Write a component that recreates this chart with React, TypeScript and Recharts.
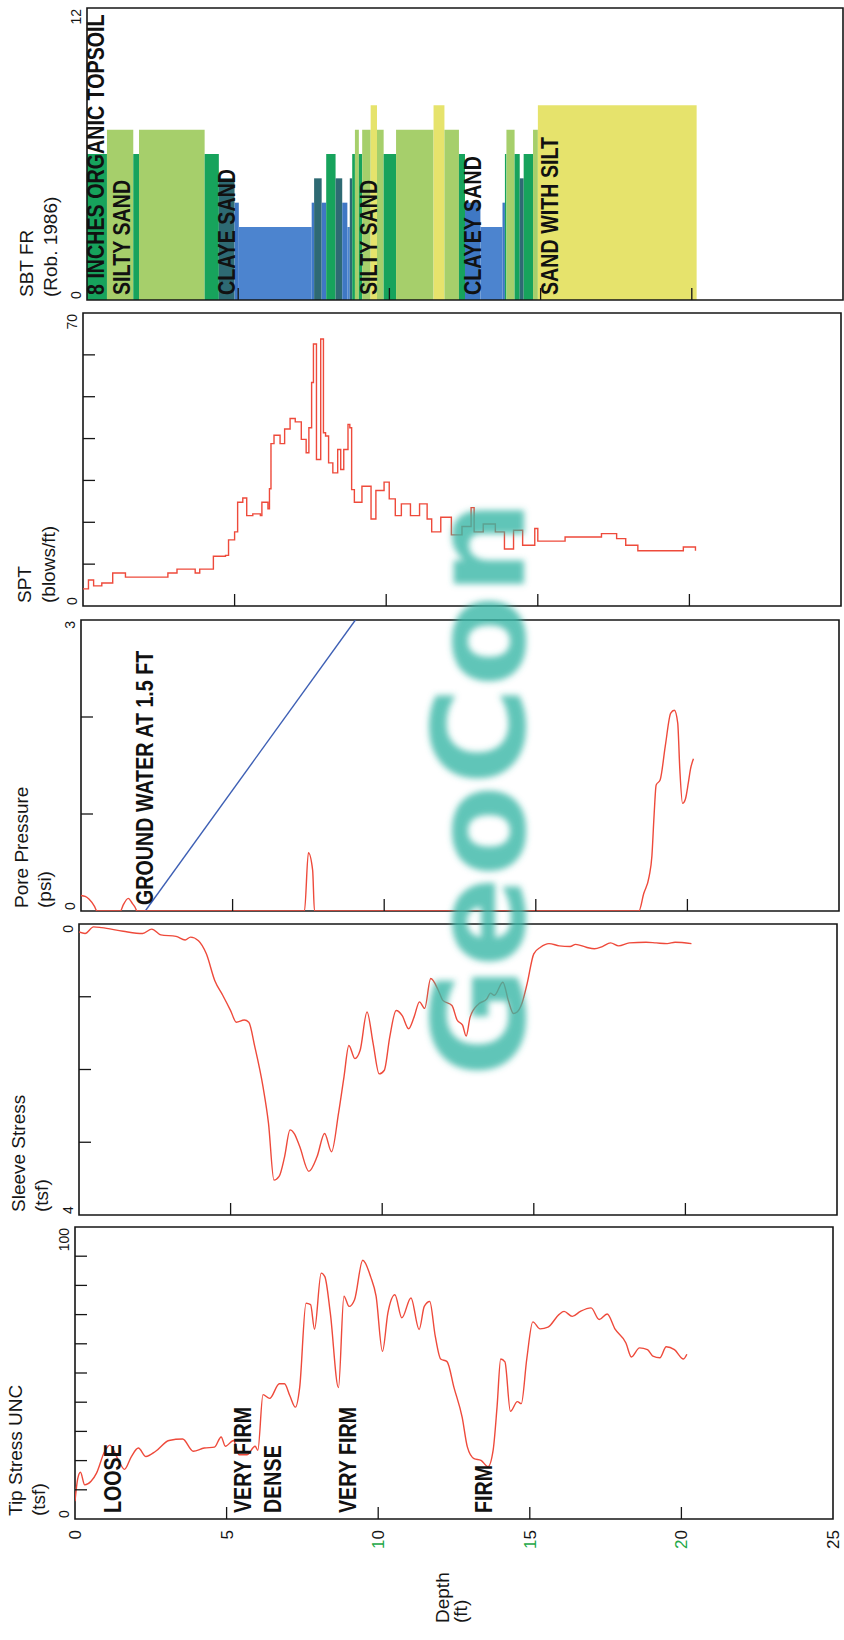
import React from 'react'
import {
  ComposedChart,
  Line,
  XAxis,
  YAxis,
  ReferenceArea,
  ReferenceDot,
} from 'recharts'

const W = 844
const H = 1640
const FONT = '"Liberation Sans", Arial, Helvetica, sans-serif'
const INK = '#161616'
const RED = '#ee4a3b'
const BLUE = '#3d5fb4'

// depth axis (ft)
const depthTicks = [0, 5, 10, 15, 20, 25]
const depthGreenDigit = [10, 15, 20]

// SBT FR (Rob. 1986) layers: boundaries (ft) and zone number
const sbtBounds = [
  0, 0.66, 1.53, 1.72, 3.89, 4.36, 4.88, 5.02, 7.43, 7.51, 7.76, 7.91, 8.22, 8.44, 8.61, 8.69, 8.77,
  8.86, 8.99, 9.1, 9.38, 9.59, 9.81, 10.22, 11.46, 11.82, 12.3, 12.5, 13.01, 13.74, 13.82, 13.87,
  14.14, 14.31, 14.44, 14.75, 14.91, 20.16,
]
const sbtZone = [
  6, 7, 6, 7, 6, 5, 4, 3, 4, 5, 4, 6, 5, 4, 3, 5, 6, 7, 6, 7, 8, 7, 6, 7, 8, 7, 6, 4, 3, 4, 6, 7, 6,
  5, 6, 7, 8,
]
const sbtNoteText = [
  '8 INCHES ORGANIC TOPSOIL',
  'SILTY SAND',
  'CLAYE SAND',
  'SILTY SAND',
  'CLAYEY SAND',
  'SAND WITH SILT',
]
const sbtNoteDepth = [0.57, 1.43, 4.88, 9.58, 13.04, 15.57]

// SPT (blows/ft)
const sptDepth = [
  0, 0.18, 0.35, 0.62, 0.98, 1.4, 2.2, 2.8, 3.1, 3.7, 3.85, 4.3, 4.7, 4.8, 5.0, 5.1, 5.27, 5.4, 5.6,
  5.85, 5.9, 6.1, 6.15, 6.2, 6.3, 6.5, 6.65, 6.83, 7.0, 7.2, 7.36, 7.45, 7.54, 7.6, 7.7, 7.84, 7.93,
  8.0, 8.1, 8.24, 8.4, 8.5, 8.6, 8.74, 8.8, 8.86, 8.95, 9.2, 9.5, 9.66, 9.93, 10.1, 10.3, 10.5, 10.8,
  11.1, 11.35, 11.5, 11.8, 12.15, 12.5, 12.8, 12.9, 13.2, 13.6, 13.9, 14.2, 14.5, 14.9, 15.0, 15.8,
  15.9, 16.75, 17.1, 17.6, 17.9, 18.3, 19.6, 19.8, 20.2,
]
const sptValue = [
  4.1, 6.2, 4.8, 5.5, 7.9, 6.9, 6.9, 7.9, 8.8, 7.9, 8.8, 11.9, 12.1, 15.8, 17.7, 24.8, 25.8, 21.6,
  22, 21.6, 24.8, 23.2, 28, 38.8, 40.8, 38.8, 42.3, 44.8, 44, 39.8, 36.6, 42.6, 53.4, 62.6, 35, 63.8,
  41.4, 40.6, 34.2, 31.8, 37.4, 32.6, 37.4, 43.4, 42.6, 27.8, 24.8, 28.6, 20.8, 27.6, 29.6, 25.6,
  21.6, 24.4, 21.6, 24.4, 20.8, 17.7, 21.2, 17, 19, 23.5, 17.7, 19.6, 17.7, 13.6, 18.1, 14.5, 18.5,
  15.5, 15.5, 16.5, 16.5, 17.3, 16.1, 14.5, 13.2, 13.2, 14.1, 13.2,
]

// pore pressure (psi)
const poreDepth = [
  0, 0.14, 0.27, 0.44, 0.53, 1.3, 1.39, 1.56, 1.69, 1.78, 1.85, 7.3, 7.37, 7.5, 7.64, 7.7, 18.4,
  18.56, 18.74, 18.83, 18.9, 18.97, 19.1, 19.27, 19.45, 19.57, 19.68, 19.75, 19.84, 19.93, 20.03,
  20.1, 20.2,
]
const poreValue = [
  0.16, 0.15, 0.12, 0.05, 0, 0, 0.06, 0.13, 0.08, 0.04, 0, 0, 0, 0.6, 0.42, 0, 0, 0.18, 0.36, 0.57,
  0.98, 1.3, 1.35, 1.7, 2.04, 2.07, 1.94, 1.46, 1.11, 1.15, 1.32, 1.46, 1.57,
]
// hydrostatic line
const waterDepth = [2.12, 9.05]
const waterValue = [0, 3]
const waterNote = 'GROUND WATER AT 1.5 FT'
const waterNoteDepth = 2.38

// sleeve stress (tsf)
const sleeveDepth = [
  0, 0.2, 0.48, 0.75, 1.46, 2.1, 2.4, 2.7, 3.2, 3.5, 3.68, 3.94, 4.2, 4.48, 4.74, 5.0, 5.19, 5.45,
  5.6, 5.8, 6.07, 6.25, 6.43, 6.6, 6.78, 6.96, 7.1, 7.28, 7.58, 7.85, 8.1, 8.33, 8.56, 8.74, 8.9, 9.1,
  9.27, 9.5, 9.7, 9.9, 10.07, 10.25, 10.46, 10.66, 10.87, 11.05, 11.23, 11.4, 11.6, 11.85, 12.0, 12.3,
  12.47, 12.65, 12.77, 12.9, 13.18, 13.45, 13.57, 13.7, 13.98, 14.16, 14.33, 14.45, 14.6, 14.78, 15.0,
  15.22, 15.5, 15.84, 16.2, 16.38, 16.73, 17.0, 17.26, 17.53, 17.8, 18.15, 18.7, 19.04, 19.4, 19.66,
  20.2,
]
const sleeveValue = [
  0.11, 0.13, 0.04, 0.05, 0.1, 0.13, 0.07, 0.15, 0.17, 0.22, 0.18, 0.23, 0.41, 0.78, 0.98, 1.19, 1.35,
  1.32, 1.35, 1.69, 2.24, 2.74, 3.52, 3.47, 3.2, 2.83, 2.88, 3.06, 3.4, 3.2, 2.88, 3.13, 2.6, 2.1,
  1.67, 1.85, 1.74, 1.21, 1.64, 2.06, 2.01, 1.55, 1.19, 1.26, 1.44, 1.28, 1.07, 1.16, 0.75, 0.91,
  1.05, 1.12, 1.32, 1.39, 1.54, 1.28, 1.1, 1.03, 0.95, 0.98, 0.8, 1.05, 1.23, 1.21, 1.1, 0.82, 0.41,
  0.32, 0.27, 0.3, 0.31, 0.28, 0.32, 0.34, 0.31, 0.26, 0.3, 0.26, 0.25, 0.26, 0.27, 0.25, 0.27,
]

// tip stress UNC (tsf)
const tipDepth = [
  0, 0.09, 0.18, 0.32, 0.53, 0.71, 0.98, 1.15, 1.42, 1.63, 1.86, 2.09, 2.34, 2.66, 3.1, 3.55, 3.9,
  4.26, 4.6, 4.82, 4.96, 5.23, 5.41, 5.67, 5.94, 6.03, 6.2, 6.42, 6.74, 6.91, 7.09, 7.27, 7.41, 7.62,
  7.77, 7.9, 8.12, 8.24, 8.42, 8.69, 8.87, 9.04, 9.22, 9.49, 9.75, 9.93, 10.14, 10.32, 10.55, 10.78,
  11.08, 11.35, 11.52, 11.7, 11.88, 12.06, 12.27, 12.5, 12.77, 12.94, 13.16, 13.39, 13.62, 13.79,
  13.92, 14.04, 14.18, 14.36, 14.59, 14.72, 14.9, 15.1, 15.34, 15.6, 15.96, 16.13, 16.4, 16.67,
  17.02, 17.29, 17.55, 17.82, 18.17, 18.35, 18.62, 18.88, 19.06, 19.29, 19.5, 19.77, 20.07, 20.18,
]
const tipValue = [
  6.1, 13.8, 16, 11.7, 12.9, 15.7, 23.2, 25.3, 20.4, 17, 21.4, 24.3, 21.4, 23.2, 26.9, 27.4, 23.2,
  24.3, 24.6, 28.1, 24.9, 26.9, 22, 22, 24.9, 23.5, 42.6, 41.3, 46.3, 46.3, 42.1, 38.3, 45, 73.9,
  73.4, 65, 84.2, 83, 70.6, 45, 76.3, 72.8, 75.1, 88.6, 83, 76.3, 57.4, 70.6, 76.8, 68.9, 75.7, 64.9,
  72.8, 74.5, 62.7, 54.8, 53.9, 45, 34.8, 24.7, 20.7, 20.1, 17.9, 23.5, 38.4, 54.8, 53.8, 36.9, 40.2,
  39.5, 54.8, 67.5, 65.1, 65.7, 70, 71.1, 69.4, 71.1, 72.3, 68.3, 70.2, 64.9, 60.3, 55.5, 58.6, 58,
  55.8, 55.2, 59, 58, 54.8, 56.4,
]
const tipNoteText = ['LOOSE', 'VERY FIRM', 'DENSE', 'VERY FIRM', 'FIRM']
const tipNoteDepth = [1.52, 5.79, 6.79, 9.27, 13.74]

// value axis ticks
const sbtTicks = [0, 12]
const sptTicks = [0, 10, 20, 30, 40, 50, 60, 70]
const poreTicks = [0, 1, 2, 3]
const sleeveTicks = [0, 1, 2, 3, 4]
const tipTicks = [0, 10, 20, 30, 40, 50, 60, 70, 80, 90, 100]

const zoneColor: Record<number, string> = {
  3: '#4c84cf',
  4: '#3f78c4',
  5: '#2e6a73',
  6: '#17a35c',
  7: '#a6cf6b',
  8: '#e6e36c',
}

const zip = (d: number[], v: number[]) => d.map((x, i) => ({ d: x, v: v[i] }))

type Panel = {
  top: number
  bottom: number
  left: number
  right: number
  ticks: number[]
  reversed?: boolean
  title: string
  unit: string
  titleX: [number, number]
}

const panels: Record<string, Panel> = {
  sbt: { top: 8, bottom: 300, left: 87, right: 843, ticks: sbtTicks, title: 'SBT FR', unit: '(Rob. 1986)', titleX: [33, 57] },
  spt: { top: 313, bottom: 606, left: 83, right: 841, ticks: sptTicks, title: 'SPT', unit: '(blows/ft)', titleX: [31, 55] },
  pore: { top: 620, bottom: 911, left: 81, right: 839, ticks: poreTicks, title: 'Pore Pressure', unit: '(psi)', titleX: [28, 51] },
  sleeve: { top: 924, bottom: 1215, left: 79, right: 837, ticks: sleeveTicks, reversed: true, title: 'Sleeve Stress', unit: '(tsf)', titleX: [25, 48] },
  tip: { top: 1227, bottom: 1519, left: 75, right: 833, ticks: tipTicks, title: 'Tip Stress UNC', unit: '(tsf)', titleX: [22, 45] },
}

const rot = (x: number, y: number) => `rotate(-90 ${x} ${y})`

function NoteText({ x, y, text }: { x: number; y: number; text: string }) {
  return (
    <text
      transform={`translate(${x} ${y}) rotate(-90) scale(0.82 1)`}
      fontSize={24}
      fontWeight="bold"
      fontFamily={FONT}
      fill="#111"
    >
      {text}
    </text>
  )
}

const makeValueTick = (p: Panel) => (props: any) => {
  const { y, payload } = props
  const v = payload.value as number
  const first = p.ticks[0]
  const last = p.ticks[p.ticks.length - 1]
  if (v !== first && v !== last) {
    return <line x1={p.left} x2={p.left + 12} y1={y} y2={y} stroke={INK} strokeWidth={1.3} />
  }
  const atTop = y < (p.top + p.bottom) / 2
  const tx = p.left - 6
  const ty = atTop ? p.top + 1 : p.bottom - 1
  return (
    <text
      x={tx}
      y={ty}
      transform={rot(tx, ty)}
      textAnchor={atTop ? 'end' : 'start'}
      fontSize={14}
      fontFamily={FONT}
      fill={INK}
    >
      {v}
    </text>
  )
}

const makeDepthTick = (p: Panel, withLabels: boolean) => (props: any) => {
  const { x, payload } = props
  const v = payload.value as number
  const s = String(v)
  const tx = x + 6
  const ty = p.bottom + 11
  return (
    <g>
      {v > 0 && v < 25 && (
        <line x1={x} x2={x} y1={p.bottom} y2={p.bottom - 12} stroke={INK} strokeWidth={1.3} />
      )}
      {withLabels && (
        <text x={tx} y={ty} transform={rot(tx, ty)} textAnchor="end" fontSize={17} fontFamily={FONT} fill={INK}>
          {depthGreenDigit.includes(v) ? (
            <>
              <tspan fill="#22a847">{s[0]}</tspan>
              {s.slice(1)}
            </>
          ) : (
            s
          )}
        </text>
      )}
    </g>
  )
}

function PanelTitle({ p }: { p: Panel }) {
  const y = p.bottom - 3
  return (
    <g>
      <text x={p.titleX[0]} y={y} transform={rot(p.titleX[0], y)} fontSize={19} fontFamily={FONT} fill={INK}>
        {p.title}
      </text>
      <text x={p.titleX[1]} y={y} transform={rot(p.titleX[1], y)} fontSize={19} fontFamily={FONT} fill={INK}>
        {p.unit}
      </text>
    </g>
  )
}

// depth title under the last track, plus the blurred company stamp over the middle tracks
function BottomLabels() {
  const y = 1623
  return (
    <g>
      <text x={449} y={y} transform={rot(449, y)} fontSize={19} fontFamily={FONT} fill={INK}>
        Depth
      </text>
      <text x={467} y={y} transform={rot(467, y)} fontSize={19} fontFamily={FONT} fill={INK}>
        (ft)
      </text>
      <defs>
        <filter id="stamp-blur" x="-10%" y="-10%" width="120%" height="120%">
          <feGaussianBlur stdDeviation="3" />
        </filter>
      </defs>
      <text
        x={524}
        y={1077}
        transform={rot(524, 1077)}
        textLength={577}
        lengthAdjust="spacingAndGlyphs"
        fontSize={128}
        fontWeight="bold"
        fontFamily='"DejaVu Sans", Verdana, sans-serif'
        fill="#3ab6a6"
        fillOpacity={0.8}
        filter="url(#stamp-blur)"
      >
        GeoCon
      </text>
    </g>
  )
}

function Track({
  p,
  domain,
  last = false,
  children,
}: {
  p: Panel
  domain: [number, number]
  last?: boolean
  children?: React.ReactNode
}) {
  // axes of 1px so that they are drawn; margins leave the plot box at p
  return (
    <div style={{ position: 'absolute', left: 0, top: 0 }}>
      <ComposedChart
        width={W}
        height={H}
        margin={{ top: p.top, bottom: H - p.bottom - 1, left: p.left - 1, right: W - p.right }}
      >
        {children}
        <XAxis
          type="number"
          dataKey="d"
          domain={[0, 25]}
          ticks={depthTicks}
          interval={0}
          allowDataOverflow
          height={1}
          tickSize={0}
          tickMargin={0}
          axisLine={false}
          tickLine={false}
          tick={makeDepthTick(p, last)}
          label={last ? { content: () => <BottomLabels /> } : undefined}
        />
        <YAxis
          type="number"
          domain={domain}
          ticks={p.ticks}
          interval={0}
          reversed={p.reversed}
          allowDataOverflow
          width={1}
          tickSize={0}
          tickMargin={0}
          axisLine={false}
          tickLine={false}
          tick={makeValueTick(p)}
          label={{ content: () => <PanelTitle p={p} /> }}
        />
        <ReferenceArea
          x1={0}
          x2={25}
          y1={domain[0]}
          y2={domain[1]}
          fill="none"
          stroke={INK}
          strokeWidth={1.6}
          ifOverflow="visible"
        />
      </ComposedChart>
    </div>
  )
}

export default function App() {
  const { sbt, spt, pore, sleeve, tip } = panels
  return (
    <div style={{ position: 'absolute', left: 0, top: 0, width: W, height: H, background: '#fff' }}>
      <Track p={sbt} domain={[0, 12]}>
        {sbtZone.map((z, i) => (
          <ReferenceArea
            key={`sbt-${i}`}
            x1={sbtBounds[i]}
            x2={sbtBounds[i + 1]}
            y1={0}
            y2={z}
            fill={zoneColor[z]}
            fillOpacity={1}
            stroke="none"
            ifOverflow="visible"
          />
        ))}
        {sbtNoteText.map((t, i) => (
          <ReferenceDot
            key={`sbt-note-${i}`}
            x={sbtNoteDepth[i]}
            y={0}
            r={0}
            ifOverflow="visible"
            shape={(s: any) => <NoteText x={s.cx} y={s.cy - 5} text={t} />}
          />
        ))}
      </Track>

      <Track p={spt} domain={[0, 70]}>
        <Line
          data={zip(sptDepth, sptValue)}
          dataKey="v"
          type="stepAfter"
          stroke={RED}
          strokeWidth={1.4}
          dot={false}
          isAnimationActive={false}
        />
      </Track>

      <Track p={pore} domain={[0, 3]}>
        <Line
          data={zip(waterDepth, waterValue)}
          dataKey="v"
          type="linear"
          stroke={BLUE}
          strokeWidth={1.4}
          dot={false}
          isAnimationActive={false}
        />
        <Line
          data={zip(poreDepth, poreValue)}
          dataKey="v"
          type="monotone"
          stroke={RED}
          strokeWidth={1.4}
          dot={false}
          isAnimationActive={false}
        />
        <ReferenceDot
          x={waterNoteDepth}
          y={0}
          r={0}
          ifOverflow="visible"
          shape={(s: any) => <NoteText x={s.cx} y={s.cy - 6} text={waterNote} />}
        />
      </Track>

      <Track p={sleeve} domain={[0, 4]}>
        <Line
          data={zip(sleeveDepth, sleeveValue)}
          dataKey="v"
          type="monotone"
          stroke={RED}
          strokeWidth={1.4}
          dot={false}
          isAnimationActive={false}
        />
      </Track>

      <Track p={tip} domain={[0, 100]} last>
        <Line
          data={zip(tipDepth, tipValue)}
          dataKey="v"
          type="monotone"
          stroke={RED}
          strokeWidth={1.4}
          dot={false}
          isAnimationActive={false}
        />
        {tipNoteText.map((t, i) => (
          <ReferenceDot
            key={`tip-note-${i}`}
            x={tipNoteDepth[i]}
            y={0}
            r={0}
            ifOverflow="visible"
            shape={(s: any) => <NoteText x={s.cx} y={s.cy - 6} text={t} />}
          />
        ))}
      </Track>
    </div>
  )
}
